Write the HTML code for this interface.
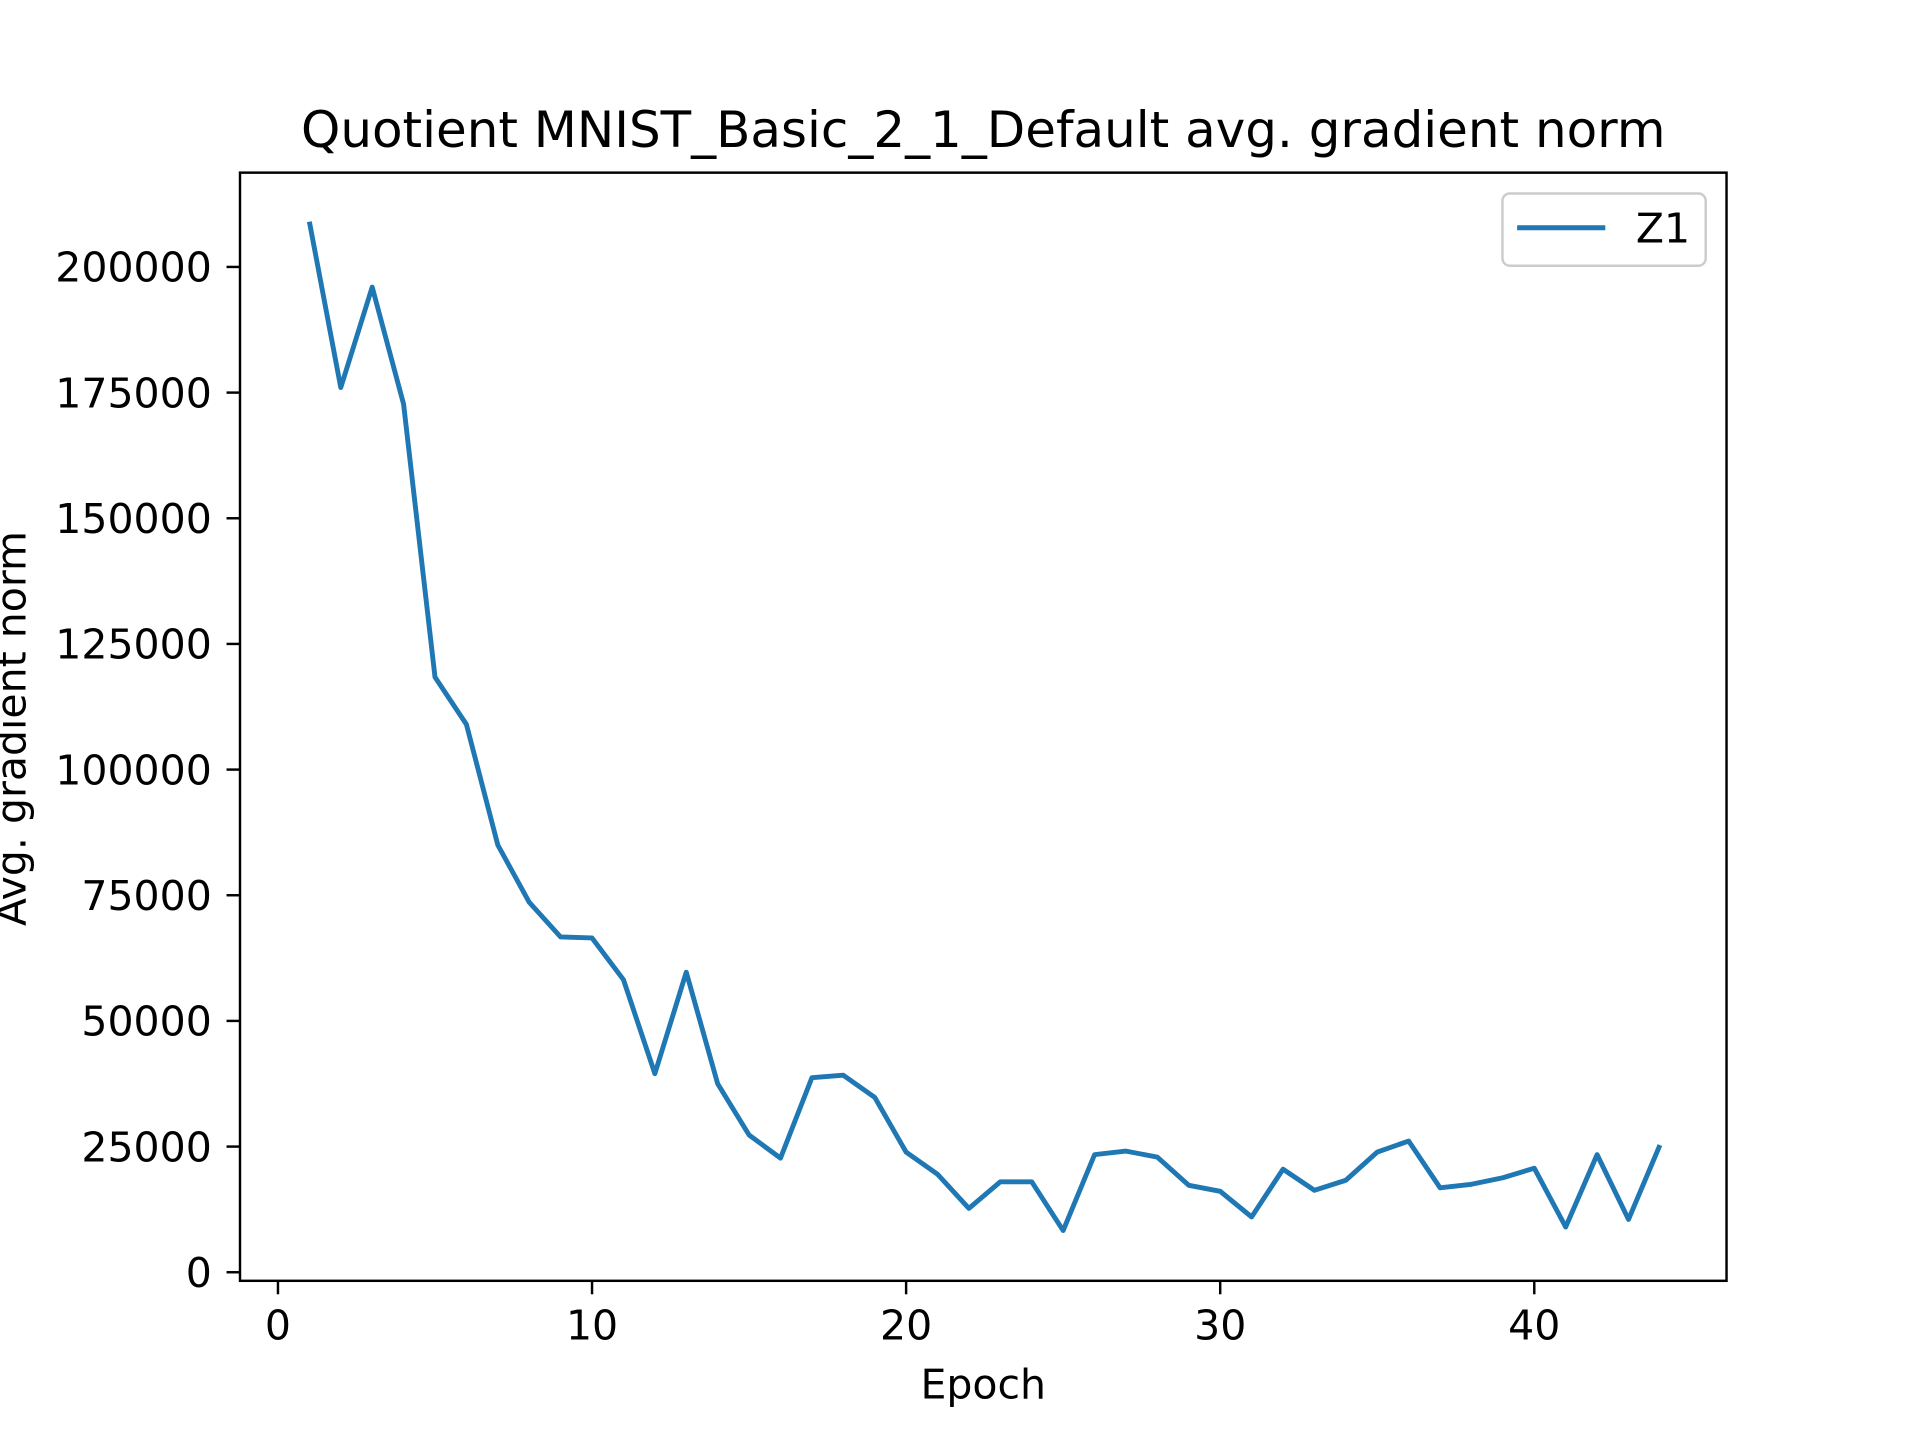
<!DOCTYPE html>
<html><head><meta charset="utf-8"><style>
html,body{margin:0;padding:0;background:#fff;}
svg{display:block;font-family:"DejaVu Sans","Liberation Sans",sans-serif;}
</style></head><body>
<svg id="chart" width="1920" height="1440" viewBox="0 0 1568 1176" xmlns="http://www.w3.org/2000/svg">
<rect width="1568" height="1176" fill="#fff"/>
<text x="803" y="120" font-size="40.8" text-anchor="middle">Quotient MNIST_Basic_2_1_Default avg. gradient norm</text>
<g id="xticks"></g><g id="yticks"></g>
<polyline id="line" fill="none" stroke="#1f77b4" stroke-width="4" stroke-linejoin="round"/>
<rect x="196" y="141" width="1214" height="905" fill="none" stroke="#000" stroke-width="2"/>
<text x="803" y="1142" font-size="33.5" text-anchor="middle">Epoch</text>
<text transform="translate(21,595) rotate(-90)" font-size="33.5" text-anchor="middle">Avg. gradient norm</text>
<g>
<rect x="1227" y="158" width="166" height="59" rx="6" fill="#fff" stroke="#ccc" stroke-width="2"/>
<line x1="1239" y1="186" x2="1311" y2="186" stroke="#1f77b4" stroke-width="4"/>
<text x="1336" y="198" font-size="33.5">Z1</text>
</g>
</svg>
<script>
const epochs=[1,2,3,4,5,6,7,8,9,10,11,12,13,14,15,16,17,18,19,20,21,22,23,24,25,26,27,28,29,30,31,32,33,34,35,36,37,38,39,40,41,42,43,44];
const z1Values=[209000,176000,196000,172700,118400,109000,85000,73600,66700,66500,58200,39500,59700,37500,27300,22700,38700,39200,34800,23900,19500,12700,18000,18000,8300,23400,24100,22900,17300,16100,11000,20500,16300,18300,23900,26100,16800,17500,18800,20700,9000,23400,10500,25300];
const xTickLabels=[0,10,20,30,40];
const yTickLabels=[0,25000,50000,75000,100000,125000,150000,175000,200000];
const X=v=>227+v*25.65;
const Y=v=>1039-v*0.004105;
const ns="http://www.w3.org/2000/svg";
const line=document.getElementById('line');
line.setAttribute('points',epochs.map((e,i)=>X(e)+','+Y(z1Values[i])).join(' '));
const xg=document.getElementById('xticks');
xTickLabels.forEach(t=>{
  const l=document.createElementNS(ns,'line');
  
  
  l.setAttribute('x1',X(t));l.setAttribute('x2',X(t));l.setAttribute('y1',1046);l.setAttribute('y2',1057);
  l.setAttribute('stroke','#000');l.setAttribute('stroke-width','2');xg.appendChild(l);
  const tx=document.createElementNS(ns,'text');
  
  
  tx.setAttribute('x',X(t));tx.setAttribute('y',1094);tx.setAttribute('font-size','33.5');tx.setAttribute('text-anchor','middle');
  tx.textContent=t;xg.appendChild(tx);
});
const yg=document.getElementById('yticks');
yTickLabels.forEach(t=>{
  const l=document.createElementNS(ns,'line');
  
  
  l.setAttribute('x1',185);l.setAttribute('x2',196);l.setAttribute('y1',Y(t));l.setAttribute('y2',Y(t));
  l.setAttribute('stroke','#000');l.setAttribute('stroke-width','2');yg.appendChild(l);
  const tx=document.createElementNS(ns,'text');
  
  
  tx.setAttribute('x',173);tx.setAttribute('y',Y(t)+12);tx.setAttribute('font-size','33.5');tx.setAttribute('text-anchor','end');
  tx.textContent=t;yg.appendChild(tx);
});
</script>
</body></html>
